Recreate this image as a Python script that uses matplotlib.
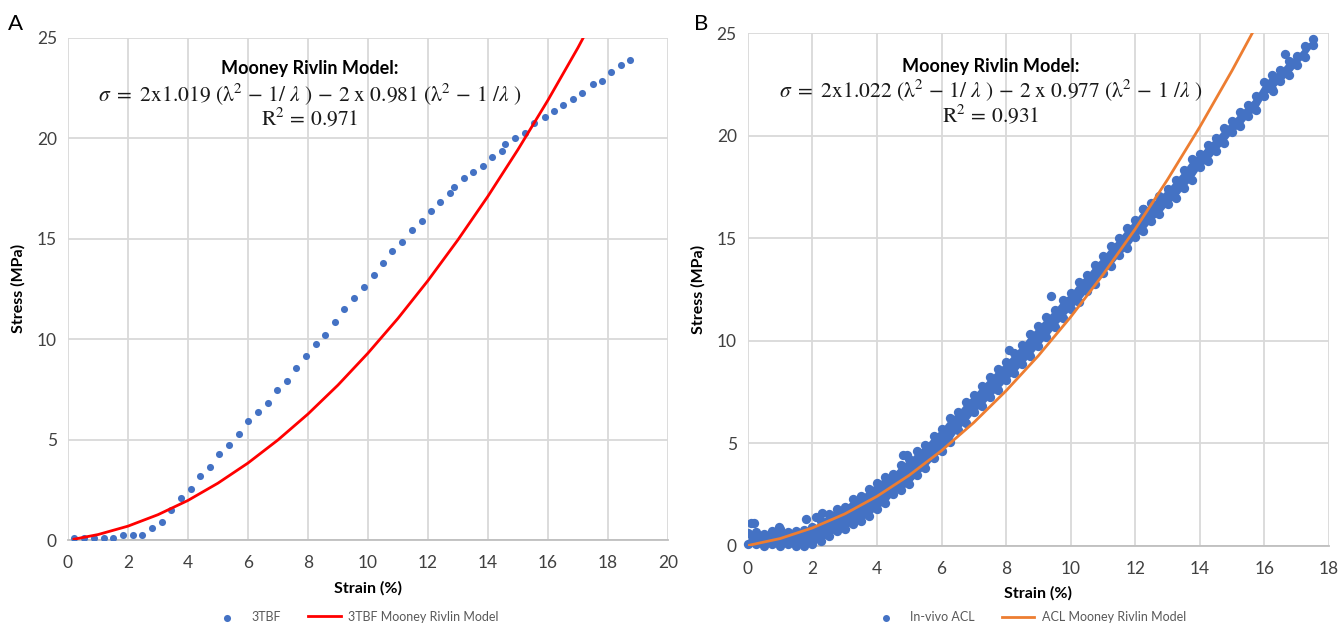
import matplotlib.pyplot as plt
import numpy as np

plt.rcParams['font.family'] = ['Lato', 'DejaVu Sans']
plt.rcParams['mathtext.fontset'] = 'stix'

BLUE = '#4472C4'
RED = '#FF0000'
ORANGE = '#ED7D31'
GRID = '#d9d9d9'

# --- A: 3TBF test data and Mooney-Rivlin fit ---
tbf_strain = [0.21, 0.54, 0.87, 1.2, 1.51, 1.83, 2.16, 2.47, 2.8, 3.13, 3.43, 3.76,
              4.09, 4.4, 4.73, 5.04, 5.36, 5.69, 6.0, 6.33, 6.66, 6.97, 7.29, 7.6,
              7.93, 8.26, 8.56, 8.89, 9.2, 9.53, 9.86, 10.19, 10.5, 10.81, 11.13,
              11.47, 11.79, 12.1, 12.41, 12.74, 12.86, 13.19, 13.51, 13.83, 14.14,
              14.46, 14.57, 14.91, 15.23, 15.54, 15.89, 16.2, 16.51, 16.83, 17.14,
              17.49, 17.8, 18.11, 18.43, 18.74]
tbf_stress = [0.1, 0.1, 0.1, 0.1, 0.1, 0.27, 0.27, 0.27, 0.58, 0.88, 1.48, 2.1,
              2.55, 3.18, 3.63, 4.27, 4.72, 5.3, 5.93, 6.38, 6.83, 7.47, 7.92, 8.55,
              9.17, 9.75, 10.2, 10.83, 11.5, 12.05, 12.58, 13.17, 13.78, 14.38, 14.85,
              15.44, 15.89, 16.37, 16.83, 17.27, 17.57, 18.01, 18.32, 18.63, 19.08,
              19.38, 19.69, 20.0, 20.28, 20.76, 21.04, 21.35, 21.66, 21.97, 22.27,
              22.71, 22.86, 23.31, 23.62, 23.91]

tbf_fit_strain = [0.2, 1, 2, 3, 4, 5, 6, 7, 8, 9, 10, 11, 12, 13, 14, 15, 16, 17, 17.5]
tbf_fit_stress = [0.04, 0.27, 0.69, 1.26, 1.97, 2.83, 3.83, 4.98, 6.27, 7.71, 9.3,
                  11.03, 12.91, 14.94, 17.11, 19.43, 21.89, 24.5, 25.9]

# --- B: in-vivo ACL data band (lower / upper edge) and Mooney-Rivlin fit ---
acl_strain = [0, 0.25, 0.5, 0.75, 1.0, 1.25, 1.5, 1.75, 2.0, 2.25, 2.5, 2.75, 3.0,
              3.25, 3.5, 3.75, 4.0, 4.25, 4.5, 4.75, 5.0, 5.25, 5.5, 5.75, 6.0,
              6.25, 6.5, 6.75, 7.0, 7.25, 7.5, 7.75, 8.0, 8.25, 8.5, 8.75, 9.0,
              9.25, 9.5, 9.75, 10.0, 10.25, 10.5, 10.75, 11.0, 11.25, 11.5, 11.75,
              12.0, 12.25, 12.5, 12.75, 13.0, 13.25, 13.5, 13.75, 14.0, 14.25, 14.5,
              14.75, 15.0, 15.25, 15.5, 15.75, 16.0, 16.25, 16.5, 16.75, 17.0,
              17.25, 17.5]
acl_low = [0.05, 0.05, 0.0, 0.05, 0.0, 0.05, 0.0, 0.0, 0.05, 0.2, 0.45, 0.7, 0.8,
           1.05, 1.2, 1.45, 1.8, 2.05, 2.5, 2.7, 3.0, 3.45, 3.8, 4.25, 4.6,
           5.05, 5.65, 6.0, 6.5, 6.8, 7.25, 7.6, 8.05, 8.4, 8.85, 9.25, 9.75,
           10.15, 10.65, 11.1, 11.55, 11.9, 12.4, 12.75, 13.3, 13.65, 14.15, 14.5,
           15.05, 15.35, 15.85, 16.15, 16.65, 16.95, 17.45, 17.85, 18.45, 18.75,
           19.25, 19.65, 20.15, 20.45, 20.95, 21.25, 21.95, 22.25, 22.65, 22.95,
           23.45, 23.85, 24.4]
acl_high = [0.6, 0.65, 0.55, 0.7, 0.8, 0.65, 0.7, 0.75, 0.9, 1.2, 1.55, 1.8, 1.9,
            2.25, 2.4, 2.75, 3.05, 3.35, 3.5, 3.95, 4.2, 4.6, 4.9, 5.35, 5.7,
            6.2, 6.5, 7.0, 7.35, 7.8, 8.2, 8.6, 8.95, 9.4, 9.8, 10.3, 10.7,
            11.15, 11.5, 12.0, 12.3, 12.85, 13.2, 13.7, 14.1, 14.6, 15.0, 15.5,
            15.9, 16.4, 16.7, 17.05, 17.4, 17.85, 18.3, 18.85, 19.1, 19.55, 19.9,
            20.35, 20.7, 21.15, 21.5, 21.95, 22.6, 22.95, 23.2, 23.65, 23.9,
            24.35, 24.7]
acl_out_strain = [0.1, 0.2, 0.95, 1.8, 2.1, 2.3, 4.79, 4.92, 8.1, 9.4, 12.24, 16.26, 16.63]
acl_out_stress = [1.1, 1.12, 0.9, 1.27, 1.4, 1.6, 4.42, 4.42, 9.55, 12.15, 16.4, 22.17, 23.96]

acl_fit_strain = [0, 1, 2, 3, 4, 5, 6, 7, 8, 9, 10, 11, 12, 13, 14, 15, 15.8]
acl_fit_stress = [0.0, 0.34, 0.86, 1.54, 2.4, 3.43, 4.63, 6.0, 7.55, 9.26, 11.15,
                  13.21, 15.44, 17.85, 20.42, 23.17, 25.5]

fig = plt.figure(figsize=(13.38, 6.24), dpi=100)
axA = fig.add_axes([0.0508, 0.1346, 0.4484, 0.805])
axB = fig.add_axes([0.5590, 0.1258, 0.4342, 0.8213])


def style(ax, xmax):
    ax.set_xlim(0, xmax)
    ax.set_ylim(0, 25)
    ax.set_xticks(np.arange(0, xmax + 1, 2))
    ax.set_yticks(range(0, 26, 5))
    ax.grid(color=GRID, lw=1.3)
    ax.set_axisbelow(True)
    for s in ['top', 'right', 'left']:
        ax.spines[s].set_visible(False)
    ax.spines['bottom'].set_color('#bfbfbf')
    ax.spines['bottom'].set_linewidth(1.3)
    ax.tick_params(length=0, labelsize=12.5, colors='#404040')
    ax.tick_params(axis='x', pad=11)
    ax.tick_params(axis='y', pad=8)
    ax.set_xlabel('Strain (%)', fontsize=11.5, fontweight='bold', labelpad=7)
    ax.set_ylabel('Stress (MPa)', fontsize=11.5, fontweight='bold', labelpad=8)


style(axA, 20)
style(axB, 18)

# A
axA.scatter(tbf_strain, tbf_stress, s=26, color=BLUE, lw=0, label='3TBF', zorder=3)
axA.plot(tbf_fit_strain, tbf_fit_stress, color=RED, lw=2.0,
         label='3TBF Mooney Rivlin Model', zorder=4)

# B
axB.fill_between(acl_strain, acl_low, acl_high, color=BLUE, lw=0, zorder=3)
axB.scatter(acl_strain, acl_low, s=45, color=BLUE, lw=0, zorder=3, clip_on=False,
            label='In-vivo ACL')
axB.scatter(acl_strain, acl_high, s=45, color=BLUE, lw=0, zorder=3)
axB.scatter(acl_out_strain, acl_out_stress, s=45, color=BLUE, lw=0, zorder=3)
axB.plot(acl_fit_strain, acl_fit_stress, color=ORANGE, lw=2.0,
         label='ACL Mooney Rivlin Model', zorder=4)

eq_style = dict(ha='center', va='center', fontsize=15.5, color='#1a1a1a')
eq_a = (r'$\sigma\ =\ 2\mathrm{x}1.019\ (\mathrm{\lambda}^2\,-\,1/\ \lambda\ )'
        r'\,-\,2\ \mathrm{x}\ 0.981\ (\mathrm{\lambda}^2\,-\,1\ /\lambda\ )$')
eq_b = (r'$\sigma\ =\ 2\mathrm{x}1.022\ (\mathrm{\lambda}^2\,-\,1/\ \lambda\ )'
        r'\,-\,2\ \mathrm{x}\ 0.977\ (\mathrm{\lambda}^2\,-\,1\ /\lambda\ )$')

axA.text(8.05, 23.45, 'Mooney Rivlin Model:', ha='center', va='center',
         fontsize=13, fontweight='bold')
axA.text(8.05, 22.2, eq_a, **eq_style)
axA.text(8.05, 21.05, r'$\mathrm{R}^2\,=\,0.971$', **eq_style)

axB.text(7.52, 23.39, 'Mooney Rivlin Model:', ha='center', va='center',
         fontsize=13, fontweight='bold')
axB.text(7.52, 22.22, eq_b, **eq_style)
axB.text(7.52, 21.03, r'$\mathrm{R}^2\,=\,0.931$', **eq_style)

leg_style = dict(loc='center', ncol=2, frameon=False, fontsize=9, labelcolor='#595959',
                 handlelength=2.6, columnspacing=2.2, handletextpad=0.6, scatterpoints=1)
axA.legend(bbox_to_anchor=(0.478, -0.153), **leg_style)
axB.legend(bbox_to_anchor=(0.482, -0.14), markerscale=0.75, **leg_style)

fig.text(0.006, 0.962, 'A', fontsize=16, va='center')
fig.text(0.519, 0.962, 'B', fontsize=16, va='center')

fig.savefig('out.png', dpi=100, facecolor='white')
